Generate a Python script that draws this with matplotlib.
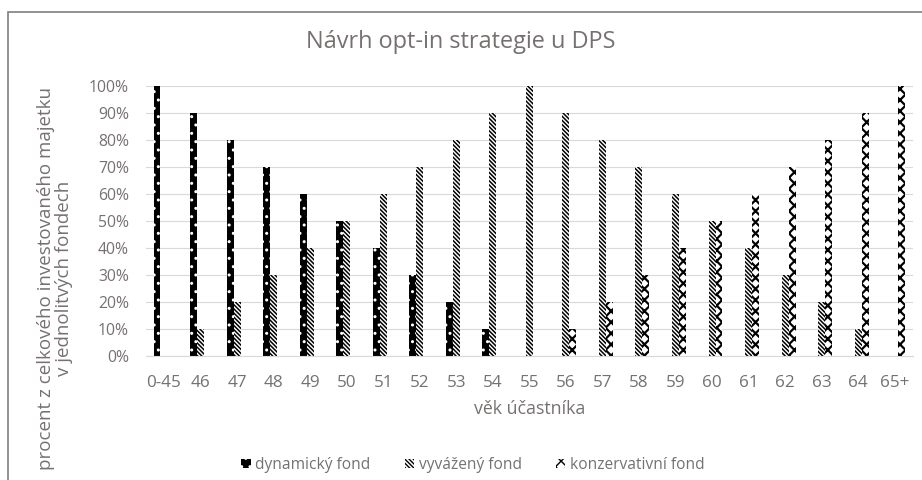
import matplotlib
matplotlib.use("Agg")
import matplotlib.pyplot as plt
from matplotlib.patches import Rectangle
import numpy as np

categories = ["0-45", "46", "47", "48", "49", "50", "51", "52", "53", "54", "55",
              "56", "57", "58", "59", "60", "61", "62", "63", "64", "65+"]
dynamic = [100, 90, 80, 70, 60, 50, 40, 30, 20, 10, 0, 0, 0, 0, 0, 0, 0, 0, 0, 0, 0]
balanced = [0, 10, 20, 30, 40, 50, 60, 70, 80, 90, 100, 90, 80, 70, 60, 50, 40, 30, 20, 10, 0]
conservative = [0, 0, 0, 0, 0, 0, 0, 0, 0, 0, 0, 10, 20, 30, 40, 50, 60, 70, 80, 90, 100]
series_names = ["dynamický fond", "vyvážený fond", "konzervativní fond"]

plt.rcParams['font.family'] = ['Open Sans', 'DejaVu Sans']
txt = '#767171'

fig = plt.figure(figsize=(9.22, 4.8), dpi=100)
fig.patches.append(Rectangle((8/922, -0.1), 2, (480-12)/480 + 0.1, transform=fig.transFigure,
                             fill=False, edgecolor='#7f7f7f', linewidth=1.2))
ax = fig.add_axes([145.7/922, (480-356)/480, (913-145.7)/922, (356-86)/480])

x = np.arange(len(categories))
w = 0.19
d = np.array(dynamic) / 100
b = np.array(balanced) / 100
c = np.array(conservative) / 100
with plt.rc_context({'hatch.linewidth': 1.0}):
    ax.bar(x - w, d, w, facecolor='black', edgecolor='white', linewidth=0, hatch='..',
           label=series_names[0])
with plt.rc_context({'hatch.linewidth': 1.1}):
    ax.bar(x, b, w, facecolor='white', edgecolor='black', linewidth=0, hatch='\\' * 8,
           label=series_names[1])
with plt.rc_context({'hatch.linewidth': 1.6}):
    ax.bar(x + w, c, w, facecolor='white', edgecolor='black', linewidth=0, hatch='xxx',
           label=series_names[2])

ax.set_xlim(-0.5, len(categories) - 0.5)
ax.set_ylim(0, 1.0)
yt = np.arange(0, 1.01, 0.1)
ax.set_yticks(yt)
ax.set_yticklabels([f"{int(round(v*100))}%" for v in yt])
ax.set_xticks(x)
ax.set_xticklabels(categories)
ax.yaxis.grid(True, color='#d9d9d9', linewidth=0.8)
ax.set_axisbelow(True)
for s in ['top', 'right', 'left']:
    ax.spines[s].set_visible(False)
ax.spines['bottom'].set_color('#d9d9d9')
ax.tick_params(axis='both', length=0, labelcolor=txt)
ax.tick_params(axis='x', pad=13.5, labelsize=12.3)
ax.tick_params(axis='y', pad=12, labelsize=11.3)

ax.set_xlabel("věk účastníka", color=txt, fontsize=12.8, labelpad=7)
fig.text(55/922, (480-278)/480, "procent z celkového investovaného majetku\nv jednolitvých fondech",
         rotation=90, ha='center', va='center', multialignment='center', color=txt,
         fontsize=13.5, linespacing=1.0)
fig.text(0.5, (480-42)/480, "Návrh opt-in strategie u DPS", ha='center', va='center',
         fontsize=16.9, color=txt)

leg = fig.legend(loc='center', bbox_to_anchor=(0.5 + 12/922, (480-465)/480), ncol=3, frameon=False,
                 fontsize=11.2, labelcolor=txt, handlelength=0.6, handleheight=0.6,
                 handletextpad=0.3, columnspacing=2.2)

fig.savefig("out.png", dpi=100)
